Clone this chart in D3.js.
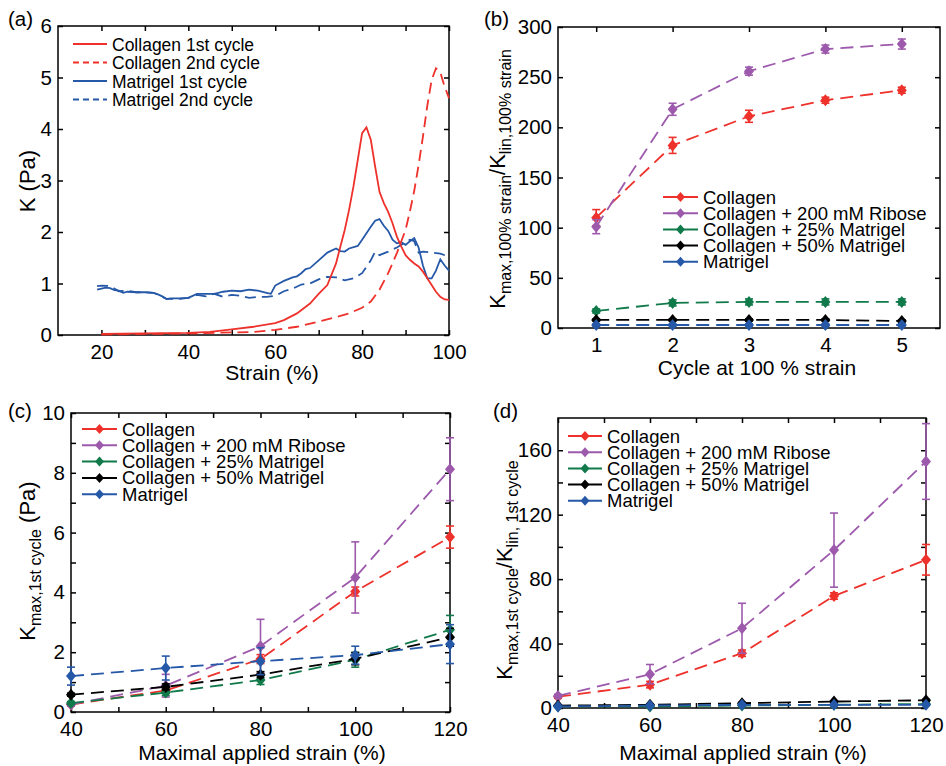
<!DOCTYPE html>
<html>
<head>
<meta charset="utf-8">
<script src="https://cdn.jsdelivr.net/npm/d3@7"></script>
<style>
  body { margin: 0; background: #fff; }
  svg text { font-family: "Liberation Sans", Arial, Helvetica, sans-serif; fill: #000; }
</style>
</head>
<body>
<div class="canvas"></div>
<script>
// ---- panel (a) data: K vs strain ----
const strainCol1 = [20, 30, 40, 45, 50, 55, 60, 62, 65, 68, 70, 72, 74, 75, 76, 77, 78, 79, 80, 81, 82, 83, 84, 85, 86, 87, 88, 89, 90, 91, 92, 93, 94, 95, 96, 97, 98, 99, 100];
const kCol1 = [0.02, 0.03, 0.04, 0.06, 0.11, 0.16, 0.23, 0.29, 0.42, 0.61, 0.8, 0.97, 1.39, 1.72, 2.04, 2.43, 2.88, 3.4, 3.92, 4.03, 3.79, 3.27, 2.78, 2.56, 2.39, 2.17, 1.91, 1.72, 1.55, 1.46, 1.39, 1.33, 1.23, 1.1, 0.97, 0.84, 0.74, 0.69, 0.68];
const strainCol2 = [20, 30, 40, 50, 55, 60, 65, 70, 75, 77, 80, 82, 84, 86, 88, 90, 91, 92, 93, 94, 95, 96, 97, 98, 99, 100];
const kCol2 = [0.01, 0.02, 0.03, 0.05, 0.06, 0.1, 0.16, 0.26, 0.37, 0.42, 0.53, 0.65, 0.88, 1.2, 1.59, 2.04, 2.4, 2.8, 3.3, 3.85, 4.45, 4.95, 5.18, 5.1, 4.82, 4.6];
const strainMat1 = [19, 20, 21, 22, 23, 24, 25, 26, 28, 30, 32, 33, 34, 35, 36, 38, 40, 41, 42, 44, 46, 48, 50, 52, 54, 56, 58, 59, 60, 62, 64, 65, 66, 67, 68, 70, 72, 74, 75, 76, 77, 79, 80, 82, 83, 84, 85, 86, 87, 88, 89, 90, 91, 92, 93, 94, 95, 96, 97, 98, 99, 100];
const kMat1 = [0.88, 0.9, 0.92, 0.91, 0.87, 0.86, 0.82, 0.84, 0.83, 0.83, 0.82, 0.79, 0.75, 0.7, 0.71, 0.71, 0.72, 0.76, 0.8, 0.8, 0.8, 0.84, 0.86, 0.85, 0.88, 0.86, 0.82, 0.8, 0.96, 1.05, 1.12, 1.14, 1.2, 1.28, 1.3, 1.45, 1.6, 1.68, 1.63, 1.62, 1.68, 1.73, 1.85, 2.1, 2.22, 2.25, 2.12, 2.02, 1.85, 1.78, 1.8, 1.75, 1.82, 1.88, 1.7, 1.35, 1.1, 1.1, 1.25, 1.47, 1.35, 1.25];
const strainMat2 = [19, 20, 22, 24, 26, 28, 30, 32, 34, 35, 36, 38, 40, 42, 44, 46, 48, 50, 52, 54, 56, 58, 60, 62, 64, 66, 68, 70, 72, 74, 76, 78, 80, 82, 83, 84, 86, 88, 90, 91, 92, 93, 94, 96, 98, 100];
const kMat2 = [0.95, 0.96, 0.95, 0.85, 0.86, 0.83, 0.83, 0.82, 0.74, 0.7, 0.7, 0.7, 0.72, 0.78, 0.75, 0.8, 0.74, 0.78, 0.76, 0.72, 0.74, 0.74, 0.76, 0.85, 0.9, 0.98, 1.0, 1.08, 1.13, 1.12, 1.06, 1.1, 1.2, 1.45, 1.62, 1.55, 1.62, 1.7, 1.8, 1.85, 1.82, 1.6, 1.62, 1.6, 1.58, 1.52];
const curveNames = ["Collagen 1st cycle", "Collagen 2nd cycle", "Matrigel 1st cycle", "Matrigel 2nd cycle"];

// ---- panels (b)-(d) data ----
const seriesNames = ["Collagen", "Collagen + 200 mM Ribose", "Collagen + 25% Matrigel", "Collagen + 50% Matrigel", "Matrigel"];
const cycles = [1, 2, 3, 4, 5];
const bMeans = [
  [110, 182, 211, 227, 237],
  [101, 218, 256, 278, 283],
  [17, 25, 26, 26, 26],
  [8, 8, 8, 8, 7],
  [3, 3, 3, 3, 3]
];
const bErrs = [
  [8, 8, 6, 3, 3],
  [7, 6, 4, 4, 5],
  [2, 3, 3, 3, 3],
  [1, 1, 1, 1, 1],
  [1, 1, 1, 1, 1]
];
const maxStrain = [40, 60, 80, 100, 120];
const cMeans = [
  [0.25, 0.72, 1.77, 4.03, 5.85],
  [0.25, 0.88, 2.2, 4.5, 8.12],
  [0.3, 0.65, 1.07, 1.75, 2.75],
  [0.58, 0.84, 1.25, 1.78, 2.5],
  [1.2, 1.47, 1.7, 1.9, 2.27]
];
const cErrs = [
  [0.05, 0.1, 0.15, 0.15, 0.37],
  [0.05, 0.38, 0.9, 1.19, 1.05],
  [0.05, 0.1, 0.15, 0.25, 0.48],
  [0.05, 0.1, 0.1, 0.2, 0.3],
  [0.3, 0.4, 0.45, 0.3, 0.65]
];
const dMeans = [
  [7, 14.5, 34, 69.5, 92],
  [7.5, 21, 49.5, 98, 153],
  [1, 1, 1.5, 2, 2.5],
  [1.5, 2, 3, 4, 4.8],
  [1, 1.5, 2, 2, 2]
];
const dErrs = [
  [1, 2, 2, 2, 9.5],
  [1, 6, 15.5, 23, 23.5],
  [0.5, 0.5, 0.5, 0.5, 0.5],
  [0.5, 0.5, 0.5, 0.5, 0.5],
  [0.5, 0.5, 0.5, 0.5, 0.5]
];

const colors = ["#ee312b", "#9d5aac", "#117a4b", "#000000", "#2658a8"];
const red = "#ee312b";
const blue = "#2658a8";
const diamond = "M0,-6L5,0L0,6L-5,0Z";
const legDiamond = "M0,-5L4.5,0L0,5L-4.5,0Z";

const canvas = d3.select(".canvas");
const svg = canvas.append("svg").attr("width", 946).attr("height", 766);

function panel(box, xDomain, yDomain) {
  const x = d3.scaleLinear().domain(xDomain).range([box.left, box.right]);
  const y = d3.scaleLinear().domain(yDomain).range([box.bottom, box.top]);
  return { x: x, y: y, box: box };
}

function drawAxes(p, xTicks, xLabels, yTicks, yLabels) {
  const g = svg.append("g");
  const fx = d => xLabels.includes(d) ? d : "";
  const fy = d => yLabels.includes(d) ? d : "";
  g.append("g").attr("transform", `translate(0,${p.box.bottom})`)
    .call(d3.axisBottom(p.x).tickValues(xTicks).tickFormat(fx).tickSize(-5).tickPadding(9));
  g.append("g").attr("transform", `translate(0,${p.box.top})`)
    .call(d3.axisTop(p.x).tickValues(xTicks).tickFormat("").tickSize(-5));
  g.append("g").attr("transform", `translate(${p.box.left},0)`)
    .call(d3.axisLeft(p.y).tickValues(yTicks).tickFormat(fy).tickSize(-5).tickPadding(6));
  g.append("g").attr("transform", `translate(${p.box.right},0)`)
    .call(d3.axisRight(p.y).tickValues(yTicks).tickFormat("").tickSize(-5));
  g.selectAll(".domain").remove();
  g.selectAll(".tick line").attr("stroke", "#000").attr("stroke-width", 1.5);
  g.selectAll(".tick text").attr("font-size", 20.5)
    .attr("font-family", '"Liberation Sans", Arial, sans-serif');
  // frame
  svg.append("rect")
    .attr("x", p.box.left).attr("y", p.box.top)
    .attr("width", p.box.right - p.box.left)
    .attr("height", p.box.bottom - p.box.top)
    .attr("fill", "none").attr("stroke", "#000").attr("stroke-width", 1.5);
}

function label(txt, x, y) {
  svg.append("text").attr("x", x).attr("y", y).attr("font-size", 20.5).text(txt);
}

function xTitle(txt, x, y) {
  svg.append("text").attr("x", x).attr("y", y).attr("font-size", 21)
    .attr("text-anchor", "middle").text(txt);
}

// parts: [text, isSub]
function yTitle(parts, x, y) {
  const t = svg.append("text")
    .attr("transform", `translate(${x},${y}) rotate(-90)`)
    .attr("text-anchor", "middle").attr("font-size", 22);
  let down = false;
  parts.forEach(function(pt) {
    const s = t.append("tspan").text(pt[0]);
    if (pt[1] && !down) { s.attr("dy", 6).attr("font-size", 16); down = true; }
    else if (pt[1]) { s.attr("font-size", 16); }
    else if (down) { s.attr("dy", -6); down = false; }
  });
}

function errorSeries(p, xs, means, errs, color) {
  const pts = xs.map((d, i) => [d, means[i], errs[i]]);
  const line = d3.line().x(d => p.x(d[0])).y(d => p.y(d[1]));
  svg.append("path").datum(pts).attr("d", line)
    .attr("fill", "none").attr("stroke", color).attr("stroke-width", 1.8)
    .attr("stroke-dasharray", "13,7");
  const g = svg.append("g").attr("stroke", color).attr("stroke-width", 1.6);
  pts.forEach(function(d) {
    const cx = p.x(d[0]);
    const y1 = p.y(d[1] - d[2]);
    const y2 = p.y(d[1] + d[2]);
    g.append("line").attr("x1", cx).attr("x2", cx).attr("y1", y1).attr("y2", y2);
    g.append("line").attr("x1", cx - 4).attr("x2", cx + 4).attr("y1", y1).attr("y2", y1);
    g.append("line").attr("x1", cx - 4).attr("x2", cx + 4).attr("y1", y2).attr("y2", y2);
  });
  svg.append("g").selectAll("path").data(pts).join("path")
    .attr("d", diamond)
    .attr("transform", d => `translate(${p.x(d[0])},${p.y(d[1])})`)
    .attr("fill", color);
}

function markerLegend(x1, x2, tx, y0, step) {
  seriesNames.forEach(function(name, i) {
    const yy = y0 + i * step;
    svg.append("line").attr("x1", x1).attr("x2", x2).attr("y1", yy).attr("y2", yy)
      .attr("stroke", colors[i]).attr("stroke-width", 2);
    svg.append("path").attr("d", legDiamond)
      .attr("transform", `translate(${(x1 + x2) / 2},${yy})`).attr("fill", colors[i]);
    svg.append("text").attr("x", tx).attr("y", yy + 6.5).attr("font-size", 18.5).text(name);
  });
}

// ---- (a) ----
function panelA() {
  const p = panel({ left: 58, top: 26, right: 449, bottom: 335 }, [10, 100], [0, 6]);
  drawAxes(p, [20, 30, 40, 50, 60, 70, 80, 90, 100], [20, 40, 60, 80, 100],
    [0, 1, 2, 3, 4, 5, 6], [0, 1, 2, 3, 4, 5, 6]);
  const curves = [
    [strainMat2, kMat2, blue, "11,6"],
    [strainMat1, kMat1, blue, null],
    [strainCol2, kCol2, red, "11,6"],
    [strainCol1, kCol1, red, null]
  ];
  curves.forEach(function(c) {
    const pts = c[0].map((d, i) => [d, c[1][i]]);
    const path = svg.append("path").datum(pts)
      .attr("d", d3.line().x(d => p.x(d[0])).y(d => p.y(d[1])))
      .attr("fill", "none").attr("stroke", c[2]).attr("stroke-width", 1.8);
    if (c[3]) path.attr("stroke-dasharray", c[3]);
  });
  // legend
  const legColors = [red, red, blue, blue];
  curveNames.forEach(function(name, i) {
    const yy = 44 + i * 18.5;
    const l = svg.append("line").attr("x1", 73).attr("x2", 107).attr("y1", yy).attr("y2", yy)
      .attr("stroke", legColors[i]).attr("stroke-width", 1.8);
    if (i % 2 == 1) l.attr("stroke-dasharray", "6,4");
    svg.append("text").attr("x", 112).attr("y", yy + 6.5).attr("font-size", 17.5).text(name);
  });
  label("(a)", 8, 26);
  xTitle("Strain (%)", 272, 380);
  yTitle([["K (Pa)", false]], 35, 181);
}

// ---- (b) ----
function panelB() {
  const p = panel({ left: 558, top: 27, right: 940, bottom: 328 }, [0.5, 5.5], [0, 300]);
  drawAxes(p, cycles, cycles, [0, 50, 100, 150, 200, 250, 300], [0, 50, 100, 150, 200, 250, 300]);
  bMeans.forEach((m, i) => errorSeries(p, cycles, m, bErrs[i], colors[i]));
  markerLegend(663, 698, 703, 197, 16.2);
  label("(b)", 484, 26);
  xTitle("Cycle at 100 % strain", 757, 375);
  yTitle([["K", false], ["max,100% strain", true], ["/K", false], ["lin,100% strain", true]], 505, 179);
}

// ---- (c) ----
function panelC() {
  const p = panel({ left: 71, top: 413, right: 450, bottom: 712 }, [40, 120], [0, 10]);
  drawAxes(p, [40, 50, 60, 70, 80, 90, 100, 110, 120], maxStrain,
    d3.range(0, 11), [0, 2, 4, 6, 8, 10]);
  cMeans.forEach((m, i) => errorSeries(p, maxStrain, m, cErrs[i], colors[i]));
  markerLegend(82, 117, 122, 429, 16.3);
  label("(c)", 8, 418);
  xTitle("Maximal applied strain (%)", 262, 760);
  yTitle([["K", false], ["max,1st cycle", true], [" (Pa)", false]], 35, 561);
}

// ---- (d) ----
function panelD() {
  const p = panel({ left: 558, top: 418, right: 926, bottom: 708 }, [40, 120], [0, 180]);
  drawAxes(p, [40, 50, 60, 70, 80, 90, 100, 110, 120], maxStrain,
    [0, 20, 40, 60, 80, 100, 120, 140, 160], [0, 40, 80, 120, 160]);
  dMeans.forEach((m, i) => errorSeries(p, maxStrain, m, dErrs[i], colors[i]));
  markerLegend(568, 602, 607, 436, 16.2);
  label("(d)", 493, 418);
  xTitle("Maximal applied strain (%)", 743, 760);
  yTitle([["K", false], ["max,1st cycle", true], ["/K", false], ["lin, 1st cycle", true]], 512, 570);
}

panelA();
panelB();
panelC();
panelD();
</script>
</body>
</html>
